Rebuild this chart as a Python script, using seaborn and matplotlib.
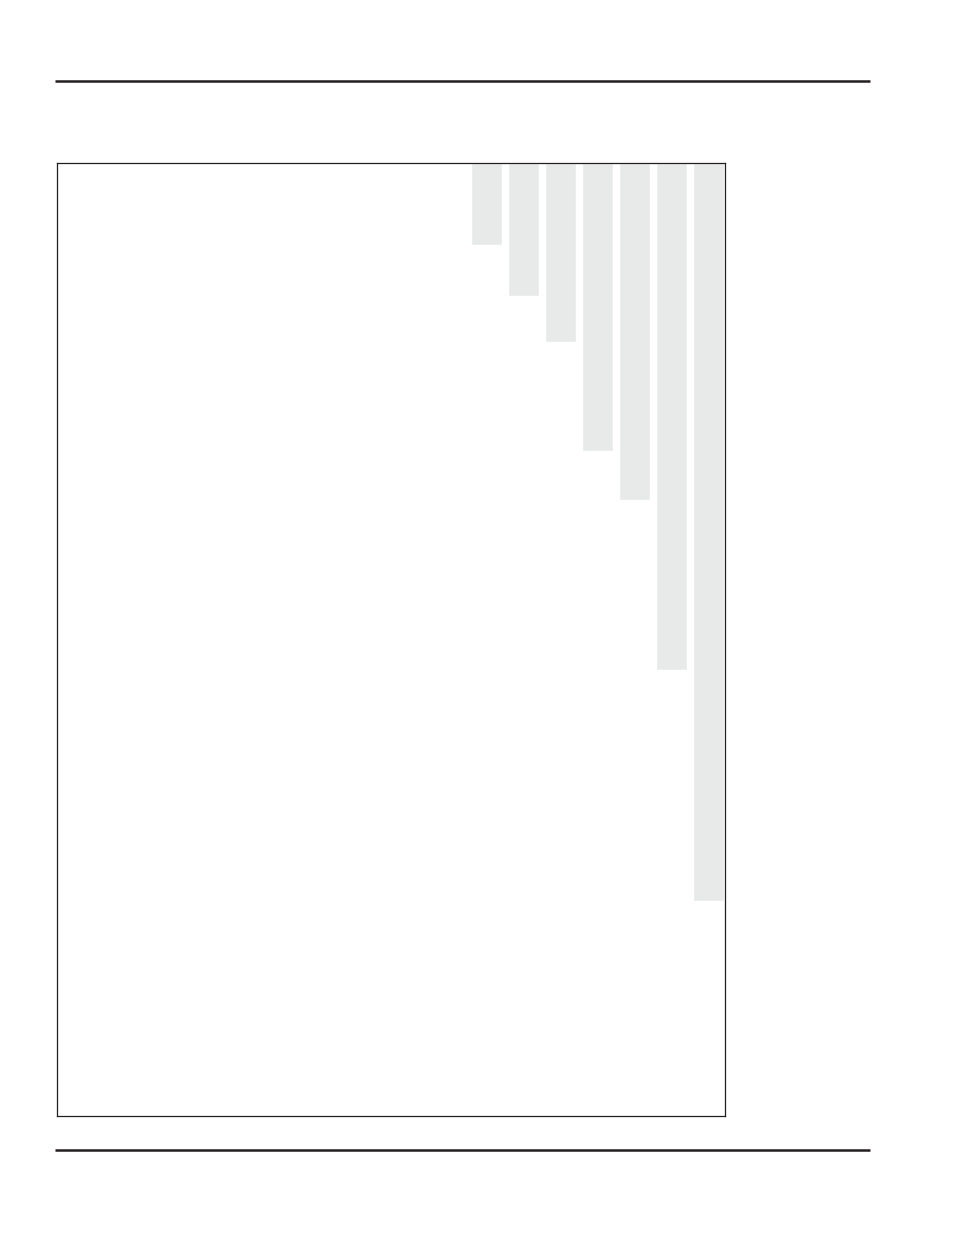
import matplotlib
matplotlib.use("Agg")
import matplotlib.pyplot as plt
from matplotlib.lines import Line2D
import seaborn as sns
import pandas as pd

# bars hang down from the top of the frame (lengths in frame pixel units)
categories = ["1", "2", "3", "4", "5", "6", "7"]
lengths = [82, 133, 179, 288, 337, 507, 738]

sns.set_style("white")

df = pd.DataFrame({"cat": categories, "len": lengths})

fig = plt.figure(figsize=(9.54, 12.35), dpi=100)
ax = fig.add_axes([57 / 954, 1 - 1116 / 1235, 668 / 954, 953 / 1235])

sns.barplot(data=df, x="cat", y="len", order=categories, color="#e8e9e9",
            saturation=1, width=0.84, ax=ax)

ax.set_ylim(953, 0)
ax.set_xlim(-11.58, 6.44)
ax.set_xticks([])
ax.set_yticks([])
ax.set_xlabel("")
ax.set_ylabel("")
for s in ax.spines.values():
    s.set_visible(True)
    s.set_color("#231f20")
    s.set_linewidth(0.9)

# page rules above and below
for yy in (81, 1150):
    fig.add_artist(Line2D([55 / 954, 870 / 954], [1 - yy / 1235, 1 - yy / 1235],
                          color="#231f20", linewidth=1.8, solid_capstyle="butt",
                          transform=fig.transFigure))

fig.savefig("out.png", dpi=100, facecolor="white")
